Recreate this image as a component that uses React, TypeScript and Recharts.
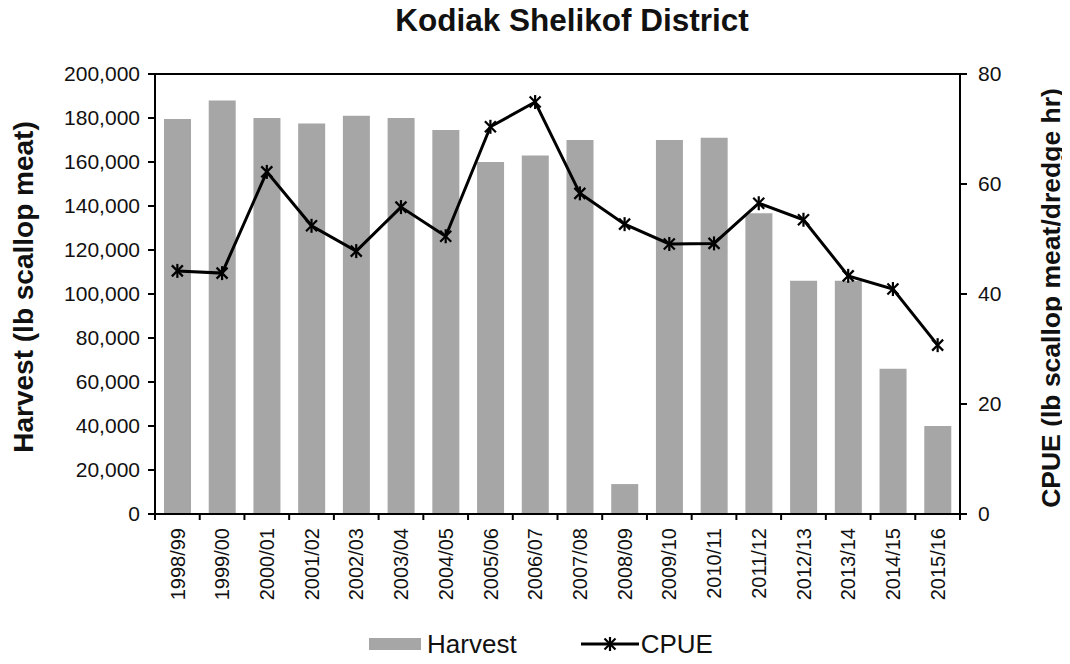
import React from 'react';
import { ComposedChart, Bar, Line, XAxis, YAxis, ReferenceLine, Legend } from 'recharts';

const seasons = [
  '1998/99', '1999/00', '2000/01', '2001/02', '2002/03', '2003/04', '2004/05', '2005/06', '2006/07',
  '2007/08', '2008/09', '2009/10', '2010/11', '2011/12', '2012/13', '2013/14', '2014/15', '2015/16',
];
const harvestValues = [
  179500, 188000, 180000, 177500, 181000, 180000, 174500, 160000, 163000,
  170000, 13600, 170000, 171000, 136700, 106000, 106000, 66000, 40000,
];
const cpueValues = [
  44.2, 43.8, 62.2, 52.4, 47.8, 55.8, 50.5, 70.4, 74.9,
  58.3, 52.7, 49.1, 49.2, 56.5, 53.5, 43.3, 40.9, 30.7,
];
const harvestTicks = [0, 20000, 40000, 60000, 80000, 100000, 120000, 140000, 160000, 180000, 200000];
const cpueTicks = [0, 20, 40, 60, 80];

const data = seasons.map((season, i) => ({ season, Harvest: harvestValues[i], CPUE: cpueValues[i] }));

const FONT = '"Liberation Sans", Arial, Helvetica, sans-serif';
const BAR_COLOR = '#A6A6A6';

const Asterisk = (props: any) => {
  const { cx, cy } = props;
  if (cx == null || cy == null) return null;
  const d = 5.5;
  const v = 7;
  return (
    <g stroke="#000" strokeWidth={2.2} fill="none">
      <line x1={cx - d} y1={cy - d} x2={cx + d} y2={cy + d} />
      <line x1={cx - d} y1={cy + d} x2={cx + d} y2={cy - d} />
      <line x1={cx} y1={cy - v} x2={cx} y2={cy + v} />
    </g>
  );
};

const XTick = (props: any) => {
  const { x, y, payload, index } = props;
  const half = payload && payload.offset ? payload.offset : 22.36;
  const axisY = y - 14;
  return (
    <g>
      <line x1={x - half} x2={x - half} y1={axisY} y2={axisY + 6} stroke="#000" strokeWidth={2} />
      {index === seasons.length - 1 && (
        <line x1={x + half} x2={x + half} y1={axisY} y2={axisY + 6} stroke="#000" strokeWidth={2} />
      )}
      <text
        x={x}
        y={y}
        transform={`rotate(-90, ${x}, ${y})`}
        textAnchor="end"
        dy="0.36em"
        fontSize={20}
        fontFamily={FONT}
        fill="#111"
      >
        {payload.value}
      </text>
    </g>
  );
};

const LegendContent = () => (
  <div
    style={{
      display: 'flex',
      justifyContent: 'center',
      alignItems: 'center',
      height: 40,
      paddingLeft: 12,
      fontFamily: FONT,
      fontSize: 26,
      color: '#111',
    }}
  >
    <svg width={52} height={12} style={{ marginRight: 6 }}>
      <rect x={0} y={0} width={52} height={12} fill={BAR_COLOR} />
    </svg>
    <span>Harvest</span>
    <svg width={58} height={20} style={{ marginLeft: 64, marginRight: 2 }}>
      <line x1={0} y1={10} x2={58} y2={10} stroke="#000" strokeWidth={3} />
      <Asterisk cx={29} cy={10} />
    </svg>
    <span>CPUE</span>
  </div>
);

export default function App() {
  return (
    <div style={{ margin: -8, position: 'relative', width: 1070, height: 664, background: '#fff' }}>
      <svg width={1070} height={50} style={{ position: 'absolute', left: 0, top: 0 }}>
        <text x={572} y={31} textAnchor="middle" fontSize={31.5} fontWeight="bold" fontFamily={FONT} fill="#111">
          Kodiak Shelikof District
        </text>
      </svg>
      <ComposedChart
        width={1070}
        height={664}
        data={data}
        margin={{ top: 74, right: 0, bottom: 0, left: 0 }}
        barCategoryGap="20%"
      >
        <XAxis
          dataKey="season"
          xAxisId={0}
          height={110}
          interval={0}
          tickSize={6}
          tickMargin={8}
          tickLine={false}
          axisLine={{ stroke: '#000', strokeWidth: 2 }}
          tick={<XTick />}
        />
        <YAxis
          yAxisId="left"
          orientation="left"
          width={155}
          domain={[0, 200000]}
          ticks={harvestTicks}
          interval={0}
          tickSize={7}
          tickMargin={8}
          tickFormatter={(v: number) => v.toLocaleString('en-US')}
          tick={{ fontSize: 21, fontFamily: FONT, fill: '#111' }}
          axisLine={{ stroke: '#000', strokeWidth: 2 }}
          tickLine={{ stroke: '#000', strokeWidth: 2 }}
          label={{
            content: (p: any) => {
              const vb = p.viewBox || { x: 0, y: 74, width: 155, height: 440 };
              const cx = vb.x + 23;
              const cy = vb.y + vb.height / 2 - 7;
              return (
                <text
                  x={cx}
                  y={cy}
                  transform={`rotate(-90, ${cx}, ${cy})`}
                  textAnchor="middle"
                  dominantBaseline="central"
                  fontSize={28}
                  fontWeight="bold"
                  fontFamily={FONT}
                  fill="#111"
                >
                  Harvest (lb scallop meat)
                </text>
              );
            },
          }}
        />
        <YAxis
          yAxisId="right"
          orientation="right"
          width={110}
          domain={[0, 80]}
          ticks={cpueTicks}
          interval={0}
          tickSize={7}
          tickMargin={11}
          tick={{ fontSize: 21, fontFamily: FONT, fill: '#111' }}
          axisLine={{ stroke: '#000', strokeWidth: 2 }}
          tickLine={{ stroke: '#000', strokeWidth: 2 }}
          label={{
            content: (p: any) => {
              const vb = p.viewBox || { x: 960, y: 74, width: 110, height: 440 };
              const cx = vb.x + 91;
              const cy = vb.y + vb.height / 2 + 4;
              return (
                <text
                  x={cx}
                  y={cy}
                  transform={`rotate(-90, ${cx}, ${cy})`}
                  textAnchor="middle"
                  dominantBaseline="central"
                  fontSize={26.5}
                  fontWeight="bold"
                  fontFamily={FONT}
                  fill="#111"
                >
                  CPUE (lb scallop meat/dredge hr)
                </text>
              );
            },
          }}
        />
        <ReferenceLine yAxisId="left" y={200000} stroke="#000" strokeWidth={2} />
        <Bar yAxisId="left" dataKey="Harvest" fill={BAR_COLOR} barSize={27} isAnimationActive={false} />
        <Line
          yAxisId="right"
          dataKey="CPUE"
          type="linear"
          stroke="#000"
          strokeWidth={3}
          dot={<Asterisk />}
          activeDot={false}
          isAnimationActive={false}
        />
        <Legend verticalAlign="bottom" content={<LegendContent />} wrapperStyle={{ height: 40 }} />
      </ComposedChart>
    </div>
  );
}
